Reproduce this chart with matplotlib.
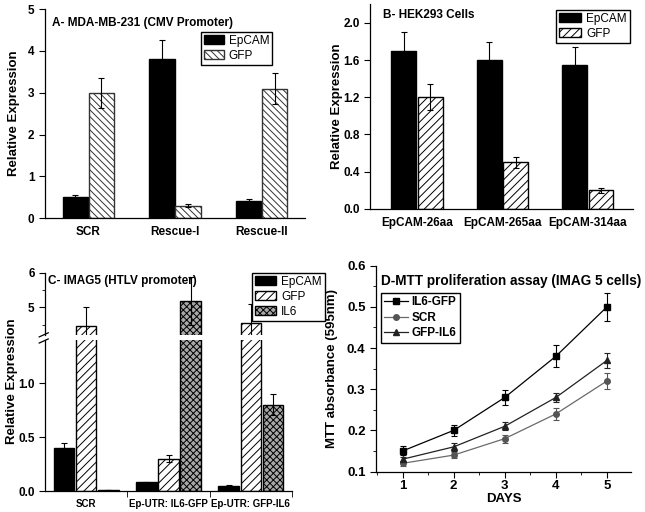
"""Painel 2x2: expressao relativa (A-C, barras) e ensaio MTT (D, linhas)."""

import matplotlib
matplotlib.use("Agg")
import matplotlib.pyplot as plt
import numpy as np
from matplotlib.ticker import AutoMinorLocator, FixedLocator

# --- dados ---
a_groups = ["SCR", "Rescue-I", "Rescue-II"]
a_epcam = [0.5, 3.82, 0.4]
a_epcam_err = [0.06, 0.45, 0.05]
a_gfp = [3.0, 0.3, 3.1]
a_gfp_err = [0.36, 0.04, 0.37]

b_groups = ["EpCAM-26aa", "EpCAM-265aa", "EpCAM-314aa"]
b_epcam = [1.7, 1.6, 1.55]
b_epcam_err = [0.2, 0.19, 0.19]
b_gfp = [1.2, 0.5, 0.2]
b_gfp_err = [0.14, 0.06, 0.025]

c_groups = ["SCR", "Ep-UTR: IL6-GFP", "Ep-UTR: GFP-IL6"]
c_epcam = [0.4, 0.08, 0.05]
c_epcam_err = [0.045, 0.006, 0.004]
c_gfp = [4.47, 0.3, 4.55]
c_gfp_err = [0.55, 0.035, 0.55]
c_il6 = [0.01, 5.18, 0.8]
c_il6_err = [0.0, 0.7, 0.1]

days = [1, 2, 3, 4, 5]
mtt_il6_gfp = [0.15, 0.20, 0.28, 0.38, 0.50]
mtt_il6_gfp_err = [0.011, 0.013, 0.018, 0.027, 0.034]
mtt_scr = [0.12, 0.14, 0.18, 0.24, 0.32]
mtt_scr_err = [0.006, 0.008, 0.01, 0.014, 0.019]
mtt_gfp_il6 = [0.13, 0.16, 0.21, 0.28, 0.37]
mtt_gfp_il6_err = [0.006, 0.01, 0.01, 0.012, 0.019]

plt.rcParams.update({
    "font.family": ["Liberation Sans", "DejaVu Sans"],
    "font.size": 8.5,
    "axes.linewidth": 0.9,
    "xtick.direction": "out",
    "ytick.direction": "out",
    "xtick.major.size": 4,
    "ytick.major.size": 4,
    "xtick.minor.size": 2,
    "ytick.minor.size": 2,
    "hatch.linewidth": 0.7,
    "legend.fancybox": False,
    "legend.edgecolor": "black",
    "legend.framealpha": 1.0,
})

LABEL_FONT = dict(fontsize=9.5, fontweight="bold")
TITLE_FONT = dict(fontsize=8.5, fontweight="bold")
ERR = dict(fmt="none", ecolor="black", elinewidth=0.8, capsize=2.5, capthick=0.8)
LEG = dict(loc="upper left", borderaxespad=0, handleheight=0.8, fontsize=8.5,
           borderpad=0.25, labelspacing=0.25, handletextpad=0.4)


def clean_axis(ax, size=8.5, xsize=None):
    """So eixo esquerdo e base, ticks em negrito."""
    ax.spines["top"].set_visible(False)
    ax.spines["right"].set_visible(False)
    for lab in ax.get_yticklabels():
        lab.set_fontweight("bold")
        lab.set_fontsize(size)
    for lab in ax.get_xticklabels():
        lab.set_fontweight("bold")
        lab.set_fontsize(xsize or size)


def bar_pair(ax, x, vals, errs, off, width, **style):
    ax.bar(x + off, vals, width, **style)
    ax.errorbar(x + off, vals, yerr=errs, **ERR)


fig = plt.figure(figsize=(6.45, 5.12), dpi=100)

# ---------------- A ----------------
ax = fig.add_axes([0.0698, 0.574, 0.403, 0.408])
x = np.arange(1, len(a_groups) + 1)
bar_pair(ax, x, a_epcam, a_epcam_err, -0.15, 0.29,
         color="black", edgecolor="black", label="EpCAM")
bar_pair(ax, x, a_gfp, a_gfp_err, 0.15, 0.29,
         facecolor="white", edgecolor="#333333", hatch="\\\\\\\\\\", label="GFP")
ax.set_xlim(0.5, 3.5)
ax.set_ylim(0, 5)
ax.set_xticks(x, a_groups)
ax.tick_params(axis="x", length=0, pad=6)
ax.set_ylabel("Relative Expression", **LABEL_FONT)
ax.yaxis.set_label_coords(-0.096, 0.5)
ax.text(0.027, 0.934, "A- MDA-MB-231 (CMV Promoter)", transform=ax.transAxes,
        va="center", **TITLE_FONT)
ax.legend(bbox_to_anchor=(0.6, 0.891), handlelength=1.7, **LEG)
clean_axis(ax)

# ---------------- B ----------------
ax = fig.add_axes([0.5736, 0.592, 0.408, 0.3996])
x = np.arange(1, len(b_groups) + 1)
bar_pair(ax, x, b_epcam, b_epcam_err, -0.155, 0.29,
         color="black", edgecolor="black", label="EpCAM")
bar_pair(ax, x, b_gfp, b_gfp_err, 0.155, 0.29,
         facecolor="white", edgecolor="black", hatch="////", label="GFP")
ax.set_xlim(0.45, 3.53)
ax.set_ylim(0, 2.2)
ax.set_yticks(np.arange(0, 2.01, 0.4))
ax.yaxis.set_major_formatter(lambda v, p: f"{v:.1f}")
ax.set_xticks(x, b_groups)
ax.tick_params(axis="x", length=0, pad=6)
ax.set_ylabel("Relative Expression", **LABEL_FONT)
ax.yaxis.set_label_coords(-0.104, 0.5)
ax.text(0.05, 0.95, "B- HEK293 Cells", transform=ax.transAxes,
        va="center", **TITLE_FONT)
ax.legend(bbox_to_anchor=(0.707, 0.973), handlelength=1.9, **LEG)
clean_axis(ax, xsize=8.5)

# ---------------- C (eixo quebrado) ----------------
lo = fig.add_axes([0.0698, 0.041, 0.383, 0.295])
hi = fig.add_axes([0.0698, 0.3457, 0.383, 0.1217])
x = np.arange(1, len(c_groups) + 1)
series_c = [
    (c_epcam, c_epcam_err, -0.27, dict(color="black", edgecolor="black"), "EpCAM"),
    (c_gfp, c_gfp_err, 0.0, dict(facecolor="white", edgecolor="black", hatch="////"), "GFP"),
    (c_il6, c_il6_err, 0.27, dict(facecolor="#a8a8a8", edgecolor="black", hatch="xxxxx"), "IL6"),
]
for part in (lo, hi):
    for vals, errs, off, style, name in series_c:
        bar_pair(part, x, vals, errs, off, 0.25, label=name, **style)
    part.set_xlim(0.5, 3.5)
lo.set_ylim(0, 1.4)
lo.set_yticks([0.0, 0.5, 1.0])
lo.yaxis.set_major_formatter(lambda v, p: f"{v:.1f}")
lo.set_xticks(x, c_groups)
lo.tick_params(axis="x", length=0, pad=6)
lo.xaxis.set_minor_locator(FixedLocator([1.5, 2.5, 3.5]))
lo.tick_params(axis="x", which="minor", length=4)
clean_axis(lo, xsize=7)
hi.set_ylim(4.2, 6)
hi.set_yticks([5, 6])
hi.yaxis.set_minor_locator(FixedLocator([4.5, 5.5]))
hi.tick_params(axis="x", which="both", bottom=False, labelbottom=False)
hi.spines["bottom"].set_visible(False)
clean_axis(hi)
hi.set_facecolor("none")
# marcas da quebra no eixo y
for yb in (0.0, 0.012):
    fig.add_artist(plt.Line2D([0.0698 - 0.009, 0.0698 + 0.005],
                              [0.334 + yb - 0.004, 0.334 + yb + 0.004],
                              color="black", lw=0.9))
fig.text(0.018, 0.255, "Relative Expression", rotation=90, ha="center",
         va="center", **LABEL_FONT)
hi.text(0.012, 0.86, "C- IMAG5 (HTLV promoter)", transform=hi.transAxes,
        va="center", **TITLE_FONT)
hi.legend(bbox_to_anchor=(0.391, 0.467), bbox_transform=fig.transFigure,
          handlelength=1.8, **LEG)

# ---------------- D ----------------
ax = fig.add_axes([0.583, 0.079, 0.396, 0.402])
line_kw = dict(lw=0.9, ms=4, capsize=2.5, elinewidth=0.8, capthick=0.8)
h1 = ax.errorbar(days, mtt_il6_gfp, yerr=mtt_il6_gfp_err, marker="s", color="black",
                 ecolor="black", label="IL6-GFP", **line_kw)
h2 = ax.errorbar(days, mtt_scr, yerr=mtt_scr_err, marker="o", color="#6a6a6a",
                 mfc="#555555", mec="#555555", ecolor="#555555", label="SCR", **line_kw)
h3 = ax.errorbar(days, mtt_gfp_il6, yerr=mtt_gfp_il6_err, marker="^", color="#222222",
                 ecolor="#222222", label="GFP-IL6", **line_kw)
ax.set_xlim(0.48, 5.48)
ax.set_ylim(0.1, 0.6)
ax.set_xticks(days)
ax.xaxis.set_minor_locator(AutoMinorLocator(2))
ax.yaxis.set_minor_locator(AutoMinorLocator(2))
ax.tick_params(axis="x", pad=2)
ax.set_xlabel("DAYS", **LABEL_FONT)
ax.xaxis.set_label_coords(0.5, -0.105)
ax.set_ylabel("MTT absorbance (595nm)", **LABEL_FONT)
ax.yaxis.set_label_coords(-0.149, 0.5)
ax.text(0.02, 0.925, "D-MTT proliferation assay (IMAG 5 cells)",
        transform=ax.transAxes, va="center", fontsize=9.8, fontweight="bold")
ax.legend(handles=[h.lines[0] for h in (h1, h2, h3)],
          labels=["IL6-GFP", "SCR", "GFP-IL6"],
          loc="upper left", bbox_to_anchor=(0.590, 0.428),
          bbox_transform=fig.transFigure, borderaxespad=0, handlelength=2.0,
          borderpad=0.3, labelspacing=0.3, handletextpad=0.3,
          prop=dict(weight="bold", size=8.5))
clean_axis(ax, size=9.5)

fig.savefig("out.png", dpi=100)
